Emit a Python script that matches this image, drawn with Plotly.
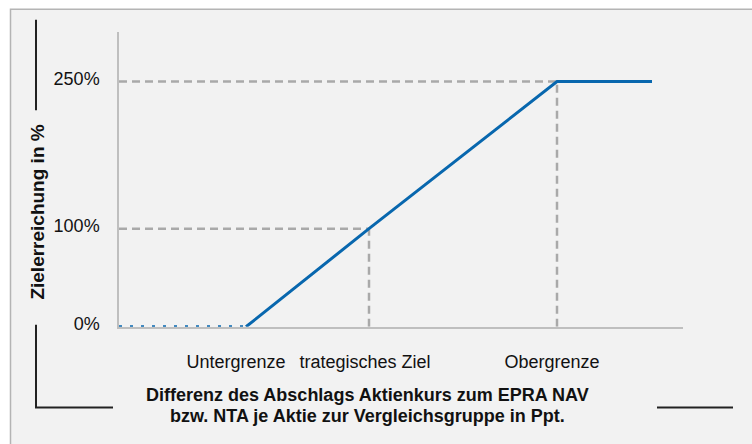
import plotly.graph_objects as go

# ---- data ----
x_points = [0, 127, 250, 438, 533]          # horizontal position (axis units)
y_points = [0, 0, 100, 250, 250]            # Zielerreichung in %
tick_x = [117, 246, 433]
tick_labels = ["Untergrenze", "trategisches Ziel", "Obergrenze"]
y_ticks = [0, 100, 250]
y_tick_labels = ["0%", "100%", "250%"]
x_title_lines = ["Differenz des Abschlags Aktienkurs zum EPRA NAV",
                 "bzw. NTA je Aktie zur Vergleichsgruppe in Ppt."]
y_title = "Zielerreichung in %"

W, H = 752, 444
def px(x):
    return x / W
def py(y):
    return 1 - y / H

FONT = "Liberation Sans, Arial, sans-serif"
BLUE = "#0867ae"
GRAY_DASH = "#a9a9a9"

fig = go.Figure()

# reference dashed lines (target and cap)
for i in (2, 3):
    fig.add_trace(go.Scatter(x=[x_points[0], x_points[i]], y=[y_points[i], y_points[i]],
                             mode="lines", line=dict(color=GRAY_DASH, width=2.5, dash="8px,5px"),
                             hoverinfo="skip", showlegend=False))
    fig.add_trace(go.Scatter(x=[x_points[i], x_points[i]], y=[y_points[0], y_points[i]],
                             mode="lines", line=dict(color=GRAY_DASH, width=2.5, dash="8px,5px"),
                             hoverinfo="skip", showlegend=False))

# blue curve: dotted at floor, solid afterwards
fig.add_trace(go.Scatter(x=x_points[:2], y=y_points[:2], mode="lines",
                         line=dict(color=BLUE, width=3, dash="3px,8px"), showlegend=False))
fig.add_trace(go.Scatter(x=x_points[1:], y=y_points[1:], mode="lines",
                         line=dict(color=BLUE, width=3), showlegend=False))

shapes = [
    # background panel with border
    dict(type="rect", xref="paper", yref="paper", x0=px(10.5), y0=py(9.5), x1=1.05, y1=-0.05,
         fillcolor="#f2f2f2", line=dict(color="#b4b4b4", width=1.5), layer="below"),
    # decorative black lines
    dict(type="line", xref="paper", yref="paper", x0=px(36), y0=py(20), x1=px(36), y1=py(112),
         line=dict(color="#222", width=2)),
    dict(type="line", xref="paper", yref="paper", x0=px(36), y0=py(330), x1=px(36), y1=py(414),
         line=dict(color="#222", width=2)),
    dict(type="line", xref="paper", yref="paper", x0=px(35), y0=py(414), x1=px(113), y1=py(414),
         line=dict(color="#222", width=2)),
    dict(type="line", xref="paper", yref="paper", x0=px(657), y0=py(414), x1=px(733), y1=py(414),
         line=dict(color="#222", width=2)),
]

annotations = [
    dict(text=f"<b>{x_title_lines[0]}</b>", xref="paper", yref="paper", x=px(367), y=py(401),
         showarrow=False, xanchor="center", yanchor="middle", font=dict(family=FONT, size=18, color="#111")),
    dict(text=f"<b>{x_title_lines[1]}</b>", xref="paper", yref="paper", x=px(367), y=py(423),
         showarrow=False, xanchor="center", yanchor="middle", font=dict(family=FONT, size=18, color="#111")),
    dict(text=f"<b>{y_title}</b>", xref="paper", yref="paper", x=px(38), y=py(216), textangle=-90,
         showarrow=False, xanchor="center", yanchor="middle", font=dict(family=FONT, size=19, color="#111")),
]

fig.update_layout(
    width=W, height=H,
    margin=dict(l=0, r=0, t=0, b=0),
    paper_bgcolor="white",
    plot_bgcolor="rgba(0,0,0,0)",
    shapes=shapes,
    annotations=annotations,
    showlegend=False,
    xaxis=dict(domain=[px(119), px(683)], range=[0, 564], showgrid=False, zeroline=False,
               showline=True, linecolor="#bfbfbf", linewidth=1.5, layer="below traces",
               tickmode="array", tickvals=tick_x, ticktext=tick_labels, ticks="",
               ticklabelstandoff=18,
               tickfont=dict(family=FONT, size=18, color="#111")),
    yaxis=dict(domain=[py(332), py(33)], range=[0, 300], showgrid=False, zeroline=False,
               showline=True, linecolor="#bfbfbf", linewidth=1.5, layer="below traces",
               tickmode="array", tickvals=y_ticks, ticktext=y_tick_labels, ticks="",
               ticklabelstandoff=14, ticklabelshift=-3,
               tickfont=dict(family=FONT, size=18, color="#111")),
)

fig.write_html("out.html", config={"displayModeBar": False},
               post_script="document.body.style.margin='0';document.body.style.overflow='hidden';")
